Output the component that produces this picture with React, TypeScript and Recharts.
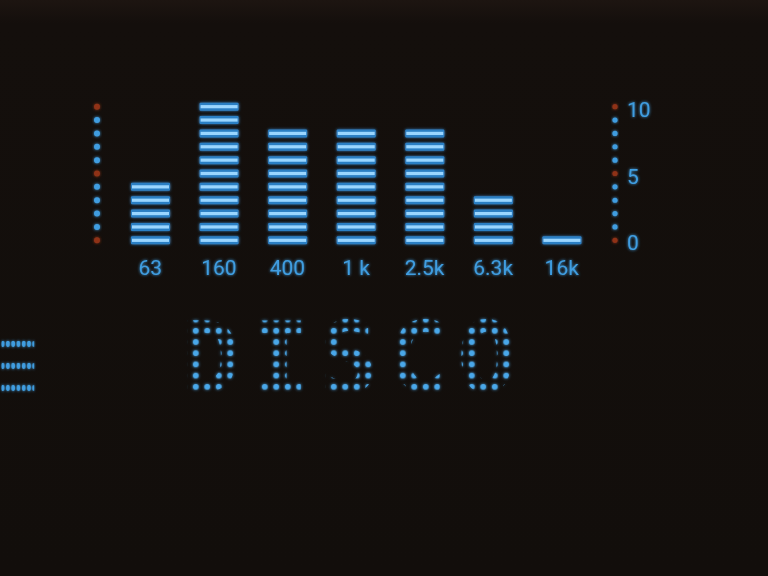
import { ComposedChart, Bar, Line, XAxis, YAxis } from 'recharts';

const bands = ['63', '160', '400', '1 k', '2.5k', '6.3k', '16k'];
const levels = [4, 10, 8, 8, 8, 3, 0];
const scaleTicks = [0, 1, 2, 3, 4, 5, 6, 7, 8, 9, 10];
const scaleLabels = [0, 5, 10];
const modeText = 'DISCO';
const sideText = '≡';

const HALF = 0.3; // half a segment, in level units

const BLUE = '#3f9de0';
const RED = '#8f3218';

const chartData = bands.map((band, i) => ({
  band,
  level: levels[i],
  range: [-HALF, levels[i] + HALF],
}));

const SegmentBar = (props: any) => {
  const { x, y, width, height, payload } = props;
  const top = Math.min(y, y + height);
  const h = Math.abs(height);
  const pitch = h / (payload.level + 2 * HALF);
  const segH = 2 * HALF * pitch;
  const segs = [];
  for (let k = 0; k <= payload.level; k++) {
    const sy = top + h - k * pitch - segH;
    segs.push(
      <g key={k}>
        <rect x={x} y={sy} width={width} height={segH} fill="#2c7fc4" rx={1} />
        <rect x={x + 1} y={sy + segH * 0.3} width={width - 2} height={segH * 0.4} fill="#9ad6ff" />
      </g>
    );
  }
  return <g filter="url(#glow)">{segs}</g>;
};

const DotTick = (props: any) => {
  const { x, y, payload, side } = props;
  const v = payload.value;
  const red = v % 5 === 0;
  return (
    <g>
      <circle cx={x} cy={y} r={side === 'left' ? 3 : 2.6} fill={red ? RED : BLUE} filter="url(#glow)" />
      {side === 'right' && scaleLabels.includes(v) && (
        <text
          x={x + 12}
          y={y + 3}
          fill={BLUE}
          fontSize={21}
          fontFamily="Roboto, 'DejaVu Sans', sans-serif"
          dominantBaseline="central"
          filter="url(#glow)"
        >
          {v}
        </text>
      )}
    </g>
  );
};

const BandTick = (props: any) => {
  const { x, y, payload } = props;
  return (
    <text
      x={x}
      y={y + 28}
      fill={BLUE}
      fontSize={21}
      textAnchor="middle"
      fontFamily="Roboto, 'DejaVu Sans', sans-serif"
      filter="url(#glow)"
    >
      {payload.value}
    </text>
  );
};

export default function App() {
  return (
    <div
      style={{
        position: 'fixed',
        left: 0,
        top: 0,
        width: 768,
        height: 576,
        background: 'linear-gradient(#1d1511 0%, #140f0c 4%, #120e0b 100%)',
        overflow: 'hidden',
      }}
    >
      <svg width={0} height={0} style={{ position: 'absolute' }}>
        <defs>
          <filter id="glow" x="-20%" y="-50%" width="140%" height="200%">
            <feGaussianBlur stdDeviation="1.6" result="b" />
            <feMerge>
              <feMergeNode in="b" />
              <feMergeNode in="SourceGraphic" />
            </feMerge>
          </filter>
        </defs>
      </svg>
      <ComposedChart
        width={768}
        height={576}
        data={chartData}
        margin={{ top: 100, right: 0, bottom: 299, left: 0 }}
        barSize={39}
        style={{ position: 'absolute', left: 0, top: 0 }}
      >
        <XAxis
          dataKey="band"
          axisLine={false}
          tickLine={false}
          tickSize={0}
          tickMargin={0}
          height={30}
          interval={0}
          tick={<BandTick />}
        />
        <YAxis
          yAxisId="left"
          orientation="left"
          width={116}
          domain={[-0.5, 10.5]}
          ticks={scaleTicks}
          axisLine={false}
          tickLine={false}
          tickSize={0}
          tickMargin={19}
          interval={0}
          tick={<DotTick side="left" />}
        />
        <YAxis
          yAxisId="right"
          orientation="right"
          width={172}
          domain={[-0.5, 10.5]}
          ticks={scaleTicks}
          axisLine={false}
          tickLine={false}
          tickSize={0}
          tickMargin={19}
          interval={0}
          tick={<DotTick side="right" />}
        />
        <Bar yAxisId="left" dataKey="range" shape={<SegmentBar />} isAnimationActive={false} />
        <Line
          yAxisId="right"
          dataKey="level"
          stroke="none"
          dot={false}
          activeDot={false}
          isAnimationActive={false}
        />
      </ComposedChart>
      <svg width={768} height={576} style={{ position: 'absolute', left: 0, top: 0 }}>
        <defs>
          <pattern id="dots" patternUnits="userSpaceOnUse" x={190} y={314} width={11.5} height={11.2}>
            <circle cx={5.75} cy={5.6} r={2.8} fill="#4aa8ea" />
          </pattern>
          <pattern id="dotsSmall" patternUnits="userSpaceOnUse" x={0} y={333} width={8.5} height={22}>
            <circle cx={4.25} cy={11} r={2.9} fill="#3f9de0" />
          </pattern>
        </defs>
        <text
          x={0}
          y={398}
          fontSize={96}
          fontWeight="bold"
          transform="scale(0.62 1)"
          fontFamily="'DejaVu Sans Mono', monospace"
          fill="url(#dotsSmall)"
          stroke="url(#dotsSmall)"
          strokeWidth={3}
          filter="url(#glow)"
        >
          {sideText}
        </text>
        <text
          x={181}
          y={392}
          fontSize={98}
          fontWeight="bold"
          letterSpacing={10}
          fontFamily="'DejaVu Sans Mono', monospace"
          fill="url(#dots)"
          filter="url(#glow)"
        >
          {modeText}
        </text>
      </svg>
    </div>
  );
}
